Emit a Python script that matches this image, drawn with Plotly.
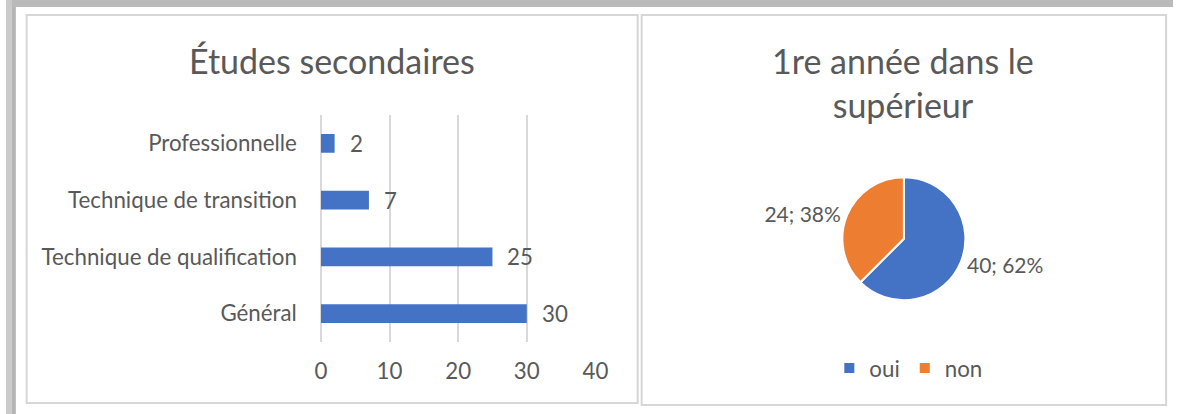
import plotly.graph_objects as go

W, H = 1186, 414

# ---- data ----
bar_categories = ["Général", "Technique de qualification", "Technique de transition", "Professionnelle"]
bar_values = [30, 25, 7, 2]
bar_title = "Études secondaires"
x_ticks = [0, 10, 20, 30, 40]

pie_labels = ["oui", "non"]
pie_values = [40, 24]
pie_text = ["40; 62%", "24; 38%"]
pie_title = "1re année dans le<br>supérieur"

BLUE = "#4472C4"
ORANGE = "#ED7D31"
TXT = "#595959"
GRID = "#D9D9D9"
FONT = "Lato"
SMALL = 22.3
PIE_LBL = 21
BIG = 34


def px(x):
    return x / W


def py(y):
    return 1 - y / H


fig = go.Figure()

fig.add_trace(go.Bar(
    x=bar_values, y=bar_categories, orientation="h",
    marker=dict(color=BLUE, line=dict(width=0)),
    width=0.33, showlegend=False, hoverinfo="x+y",
    xaxis="x", yaxis="y",
))

fig.add_trace(go.Pie(
    labels=pie_labels, values=pie_values, text=pie_text,
    textinfo="text", textposition="outside",
    textfont=dict(family=FONT, size=PIE_LBL, color=TXT),
    marker=dict(colors=[BLUE, ORANGE], line=dict(color="white", width=2)),
    sort=False, direction="clockwise", rotation=0,
    domain=dict(x=[px(850), px(975)], y=[py(301.5), py(176)]),
    showlegend=True,
))

annotations = []
for v, c in zip(bar_values, bar_categories):
    annotations.append(dict(
        x=v, y=c, xref="x", yref="y", text=str(v), showarrow=False,
        xanchor="left", yanchor="middle", xshift=13,
        font=dict(family=FONT, size=SMALL, color=TXT),
    ))
annotations.append(dict(
    x=px(331), y=py(61), xref="paper", yref="paper", text=bar_title,
    xanchor="center", yanchor="middle", showarrow=False,
    font=dict(family=FONT, size=BIG, color=TXT),
))
annotations.append(dict(
    x=px(912), y=py(82), xref="paper", yref="paper", text=pie_title,
    xanchor="center", yanchor="middle", showarrow=False,
    font=dict(family=FONT, size=BIG, color=TXT),
))

shapes = [
    # gray frame shadow
    dict(type="rect", xref="paper", yref="paper", x0=0, x1=1, y0=py(7), y1=1,
         fillcolor="#BABABA", line=dict(width=0), layer="below"),
    dict(type="rect", xref="paper", yref="paper", x0=0, x1=px(6), y0=0, y1=1,
         fillcolor="#CACACA", line=dict(width=0), layer="below"),
    dict(type="rect", xref="paper", yref="paper", x0=px(6), x1=px(10), y0=0, y1=py(7),
         fillcolor="#B4B4B4", line=dict(width=0), layer="below"),
    # panels
    dict(type="rect", xref="paper", yref="paper", x0=px(21), x1=px(642), y0=py(403), y1=py(15),
         line=dict(color="#D6D6D6", width=2), fillcolor="white", layer="below"),
    dict(type="rect", xref="paper", yref="paper", x0=px(646), x1=px(1179), y0=py(405), y1=py(15),
         line=dict(color="#D6D6D6", width=2), fillcolor="white", layer="below"),
]

fig.update_layout(
    width=W, height=H,
    margin=dict(l=0, r=0, t=0, b=0),
    paper_bgcolor="white", plot_bgcolor="rgba(0,0,0,0)",
    font=dict(family=FONT, color=TXT),
    xaxis=dict(
        domain=[px(320), px(599)], range=[0, 40], tickvals=x_ticks,
        showgrid=True, gridcolor=GRID, gridwidth=1.5, zeroline=True, zerolinecolor=GRID,
        zerolinewidth=1.5, showline=False, ticks="", ticklabelstandoff=14,
        tickfont=dict(family=FONT, size=SMALL, color=TXT), fixedrange=True,
    ),
    yaxis=dict(
        domain=[py(342), py(115)], type="category", categoryorder="array",
        categoryarray=bar_categories, range=[-0.5, 3.5], showgrid=False,
        showline=False, ticks="", ticklabelstandoff=23,
        tickfont=dict(family=FONT, size=SMALL, color=TXT), fixedrange=True,
    ),
    legend=dict(
        orientation="h", x=px(917), xanchor="center", y=py(368), yanchor="middle",
        font=dict(family=FONT, size=SMALL, color=TXT), bgcolor="rgba(0,0,0,0)",
        itemwidth=30,
    ),
    annotations=annotations,
    shapes=shapes,
)

fig.write_html(
    "out.html",
    config=dict(displayModeBar=False, responsive=False),
    post_script="document.body.style.margin='0';document.body.style.overflow='hidden';",
)
